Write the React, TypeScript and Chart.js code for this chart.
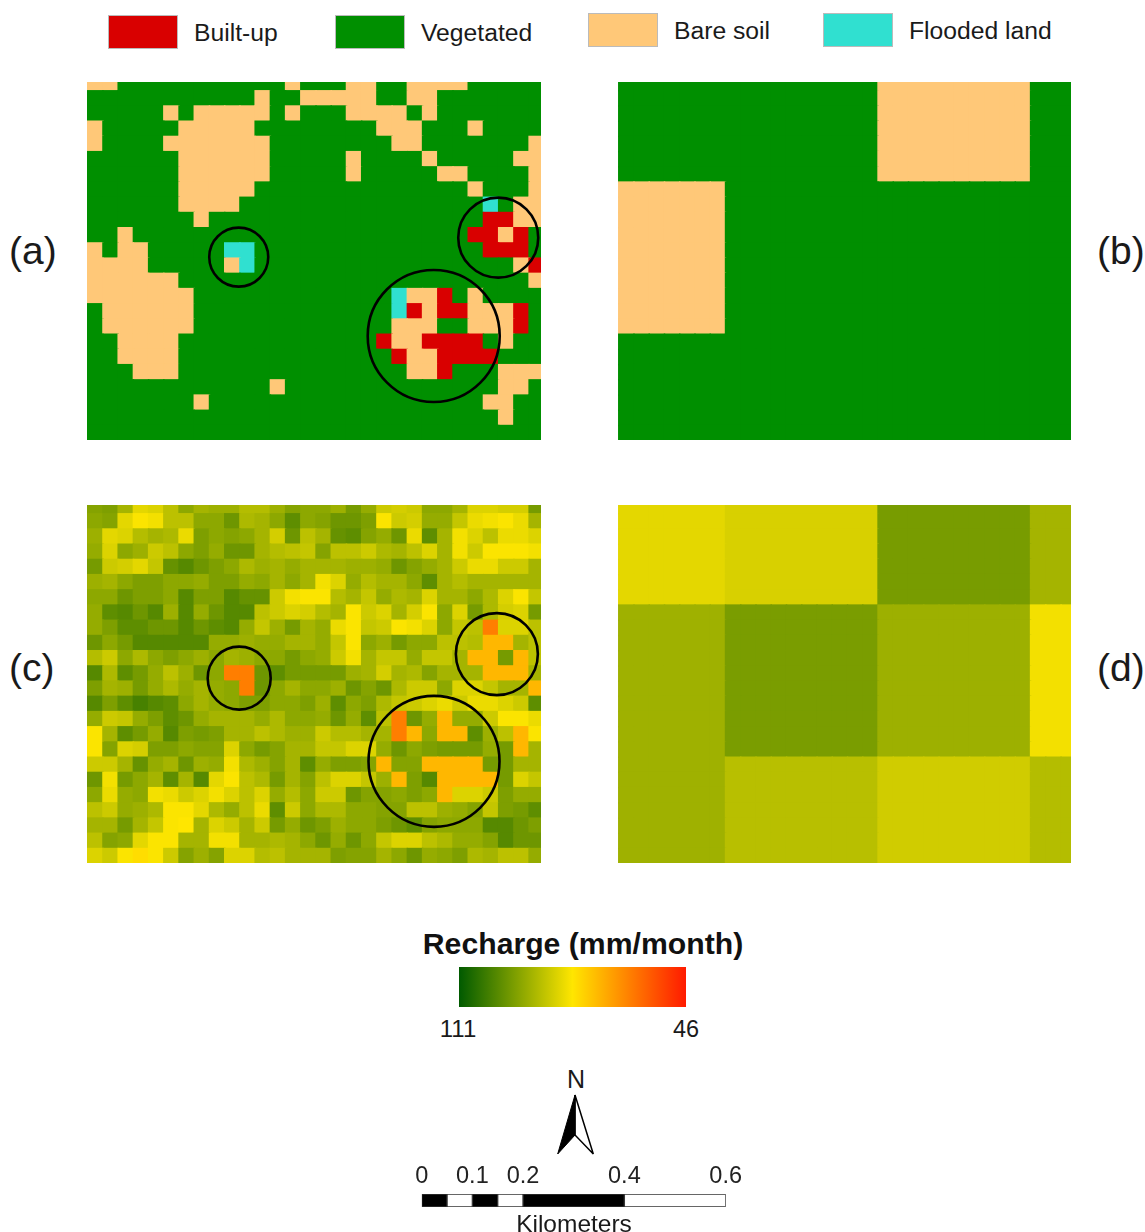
import React, { useEffect, useRef } from "react";
import { Chart, registerables } from "chart.js";

Chart.register(...registerables);

const FONT = '"Liberation Sans", Arial, sans-serif';

// ---------- data ----------
const legendItems = ["Built-up", "Vegetated", "Bare soil", "Flooded land"];
const landColors: Record<string, string> = { R: "#d90000", G: "#008f00", B: "#ffc878", C: "#30e0d0" };

// (a) land cover per cell: R built-up, G vegetated, B bare soil, C flooded land
const landCoverFine = [
  "BBGGG GGGGG GGGBG GGBBG GBBBB GGGGG",
  "GGGGG GGGGG GBGGB BBBBG GBBGG GGGGG",
  "GGGGG BGBBB BBGBG GGBBB BGBGG GGGGG",
  "BGGGG GBBBB BGGGG GGGGB BBGGG BGGGG",
  "BGGGG BBBBB BBGGG GGGGG BBGGG GGGGB",
  "GGGGG GBBBB BBGGG GGBGG GGBGG GGGBB",
  "GGGGG GBBBB BBGGG GGBGG GGGBB GGGGB",
  "GGGGG GBBBB BGGGG GGGGG GGGGG BGGGB",
  "GGGGG GBBBB GGGGG GGGGG GGGGG GCGBB",
  "GGGGG GGBGG GGGGG GGGGG GGGGG GRRBB",
  "GGBGG GGGGG GGGGG GGGGG GGGGG RRBRG",
  "BGBBG GGGGC CGGGG GGGGG GGGGG GRRRG",
  "BBBBG GGGGB CGGGG GGGGG GGGGG GGGBR",
  "BBBBB BGGGG GGGGG GGGGG GGGGG GGGGB",
  "BBBBB BBGGG GGGGG GGGGG CBBRG BGGGG",
  "GBBBB BBGGG GGGGG GGGGG CRBRR BBBRG",
  "GBBBB BBGGG GGGGG GGGGG BBBGG BBBRG",
  "GGBBB BGGGG GGGGG GGGGR BBRRR RGBGG",
  "GGBBB BGGGG GGGGG GGGGG RBBRR RRGGG",
  "GGGBB BGGGG GGGGG GGGGG GBBRG GGBBB",
  "GGGGG GGGGG GGBGG GGGGG GGGGG GGBBG",
  "GGGGG GGBGG GGGGG GGGGG GGGGG GBBGG",
  "GGGGG GGGGG GGGGG GGGGG GGGGG GGBGG",
  "GGGGG GGGGG GGGGG GGGGG GGGGG GGGGG",
];

// (b) land cover per coarse block
const landCoverCoarse = ["GGBG", "BGGG", "GGGG"];

// (c) recharge per cell, mm/month
const rechargeFine = [
  [94,95,90,82,83,87,93,90,91,91,88,88,91,94,93,93,91,96,92,85,84,85,93,93,90,83,83,84,84,96],
  [93,94,82,79,80,87,87,93,93,97,89,90,93,99,93,94,97,97,95,79,85,84,92,92,86,81,80,79,81,90],
  [91,82,83,88,90,89,81,95,93,94,93,90,84,97,87,90,98,99,94,92,97,81,99,90,80,83,87,81,81,83],
  [92,83,93,91,85,87,93,95,92,97,97,90,88,87,86,94,87,87,85,89,90,87,83,90,80,85,79,79,79,80],
  [96,85,84,82,86,98,100,97,95,93,89,91,90,92,90,90,90,91,91,92,97,94,92,90,85,81,81,85,85,90],
  [91,90,93,95,95,93,93,92,95,95,92,93,90,93,90,80,83,92,88,90,90,93,99,90,88,90,90,90,90,90],
  [93,93,97,95,95,93,100,95,95,100,98,98,85,80,79,79,88,90,86,92,89,90,83,90,90,93,89,83,79,86],
  [92,99,100,97,100,91,100,92,97,100,100,87,85,83,84,88,90,79,85,83,90,84,79,93,83,96,89,84,83,96],
  [92,95,99,99,97,97,100,97,99,100,92,86,91,96,90,92,81,79,86,85,79,80,83,93,86,87,62,83,83,87],
  [97,93,96,100,100,100,100,100,92,92,91,92,92,90,90,92,86,79,93,91,96,93,93,87,87,88,71,71,90,87],
  [88,85,93,89,93,95,93,91,93,90,91,93,93,96,93,92,85,80,90,86,86,92,86,86,90,71,71,96,71,87],
  [100,89,99,96,92,87,91,97,93,62,62,97,99,96,96,96,96,91,90,84,90,89,94,90,90,90,71,71,71,90],
  [95,90,91,96,92,89,92,90,92,93,62,97,93,90,93,93,91,97,94,97,89,85,85,93,83,83,86,90,90,71],
  [100,95,99,102,100,99,93,90,92,93,95,95,93,93,95,91,99,93,95,89,86,85,83,81,85,81,81,83,85,99],
  [92,85,86,92,95,99,97,92,90,90,90,92,89,93,93,92,97,92,99,87,62,97,92,71,92,92,85,79,79,81],
  [79,90,99,96,92,100,95,96,95,90,90,87,89,91,91,85,88,88,90,90,62,71,93,71,71,99,91,87,71,79],
  [79,94,83,84,95,95,93,94,94,83,93,96,94,90,90,86,86,83,83,92,97,93,95,96,96,96,92,96,71,90],
  [85,85,90,98,92,90,97,91,92,80,89,91,94,90,99,92,95,95,94,71,94,94,71,71,71,71,96,96,90,90],
  [97,80,96,93,90,99,90,100,82,79,87,89,96,90,94,87,83,83,86,91,71,95,100,71,71,71,71,96,83,86],
  [93,81,92,93,80,81,85,83,80,83,87,83,92,88,93,85,85,97,94,94,93,95,93,71,83,83,85,95,92,92],
  [87,85,92,91,89,79,79,82,89,92,87,81,99,85,93,89,89,93,93,94,94,87,87,91,92,94,86,95,96,99],
  [90,90,96,90,86,79,78.5,90,83,85,90,85,96,92,97,95,91,93,93,95,97,99,94,93,93,93,100,100,97,95],
  [87,94,93,82,79,79,90,90,80,80,90,90,89,90,93,97,92,97,93,86,83,83,87,89,92,92,94,100,97,97],
  [83,85,79,77,79,85,94,91,94,83,83,88,87,90,90,90,95,94,94,90,93,97,92,93,95,89,90,87,87,92],
];

// (d) recharge per coarse block, mm/month
const rechargeCoarse = [
  [82, 83.5, 95.7, 90],
  [90.7, 95.4, 91, 80],
  [90.7, 87.5, 84.5, 88],
];

const coarseColumnEdges = [0, 7, 17, 27, 30];
const coarseRowEdges = [0, 7, 17, 24];

// circled areas in grid units: [column, row, radius in px]
const circlesTop = [
  [9.97, 11.98, 29.5],
  [27.02, 10.7, 40],
  [22.78, 17.16, 66],
];
const circlesBottom = [
  [10.0, 11.85, 31.5],
  [26.93, 10.27, 41],
  [22.8, 17.32, 65.5],
];

const rechargeMax = 111;
const rechargeMin = 46;
const scaleTicks = [0, 0.1, 0.2, 0.4, 0.6];
const scaleSegments = [0.05, 0.05, 0.05, 0.05, 0.2, 0.2];
// ---------- end of data ----------

function rechargeColor(v: number): string {
  const t = (rechargeMax - v) / (rechargeMax - rechargeMin);
  if (t <= 0.5) {
    const u = t / 0.5;
    return `rgb(${Math.round(255 * u)},${Math.round(90 + 140 * u)},0)`;
  }
  const u = (t - 0.5) / 0.5;
  return `rgb(255,${Math.round(230 - 204 * u)},0)`;
}

function blockIndex(edges: number[], i: number): number {
  for (let k = 0; k < edges.length - 1; k++) if (i >= edges[k] && i < edges[k + 1]) return k;
  return edges.length - 2;
}

const COLS = 30;
const ROWS = 24;

function fineColors(colorAt: (col: number, row: number) => string) {
  const points: { x: number; y: number }[] = [];
  const colors: string[] = [];
  for (let r = 0; r < ROWS; r++) {
    for (let c = 0; c < COLS; c++) {
      // each square overlaps its right/lower neighbour's edge, so seams stay closed
      points.push({ x: c + 0.549, y: r + 0.549 });
      colors.push(colorAt(c, r));
    }
  }
  return { points, colors };
}

const landRows = landCoverFine.map((s) => s.replace(/ /g, ""));

const panelA = () => fineColors((c, r) => landColors[landRows[r][c]]);
const panelB = () =>
  fineColors((c, r) => landColors[landCoverCoarse[blockIndex(coarseRowEdges, r)][blockIndex(coarseColumnEdges, c)]]);
const panelC = () => fineColors((c, r) => rechargeColor(rechargeFine[r][c]));
const panelD = () =>
  fineColors((c, r) => rechargeColor(rechargeCoarse[blockIndex(coarseRowEdges, r)][blockIndex(coarseColumnEdges, c)]));

function Panel(props: {
  left: number;
  top: number;
  width: number;
  height: number;
  xMax: number;
  build: () => { points: { x: number; y: number }[]; colors: string[] };
  circles?: number[][];
}) {
  const ref = useRef<HTMLCanvasElement>(null);
  useEffect(() => {
    const { points, colors } = props.build();
    const datasets: any[] = [
      {
        data: points,
        pointStyle: "rect",
        pointRadius: 11.8,
        pointBorderWidth: 0,
        pointBackgroundColor: colors,
        clip: 0,
        order: 2,
      },
    ];
    if (props.circles) {
      datasets.push({
        data: props.circles.map((c) => ({ x: c[0], y: c[1] })),
        pointStyle: "circle",
        pointRadius: props.circles.map((c) => c[2]),
        pointBorderWidth: 2.6,
        pointBorderColor: "#000",
        pointBackgroundColor: "rgba(0,0,0,0)",
        clip: false,
        order: 1,
      });
    }
    const chart = new Chart(ref.current!, {
      type: "scatter",
      data: { datasets },
      options: {
        responsive: false,
        animation: false,
        events: [],
        layout: { padding: 0, autoPadding: false },
        plugins: { legend: { display: false }, tooltip: { enabled: false } },
        scales: {
          x: { type: "linear", min: 0, max: props.xMax, display: false },
          y: { type: "linear", min: 0.47, max: 24, reverse: true, display: false },
        },
      },
    } as any);
    return () => chart.destroy();
  }, []);
  return (
    <canvas
      ref={ref}
      width={props.width}
      height={props.height}
      style={{
        position: "absolute",
        left: props.left,
        top: props.top,
        width: props.width,
        height: props.height,
        filter: "blur(0.4px)",
      }}
    />
  );
}

function ScaleBar() {
  const ref = useRef<HTMLCanvasElement>(null);
  useEffect(() => {
    const chart = new Chart(ref.current!, {
      type: "bar",
      data: {
        labels: ["km"],
        datasets: scaleSegments.map((v, i) => ({
          data: [v],
          backgroundColor: i % 2 === 0 ? "#000" : "#fff",
          borderColor: "#333",
          borderWidth: 1,
          borderSkipped: false,
          barPercentage: 1,
          categoryPercentage: 1,
        })),
      },
      options: {
        indexAxis: "y",
        responsive: false,
        animation: false,
        events: [],
        layout: { padding: { left: 21.7, right: 24.3, top: 0, bottom: 3 }, autoPadding: false },
        plugins: { legend: { display: false }, tooltip: { enabled: false } },
        scales: {
          x: {
            type: "linear",
            position: "top",
            stacked: true,
            min: 0,
            max: 0.6,
            afterBuildTicks: (s: any) => {
              s.ticks = scaleTicks.map((value) => ({ value }));
            },
            afterFit: (s: any) => {
              s.height = 34;
            },
            grid: { display: false, drawTicks: false },
            border: { display: false },
            ticks: {
              autoSkip: false,
              maxRotation: 0,
              padding: 3,
              color: "#222",
              font: { family: FONT, size: 23.5 },
              callback: (v: any) => String(v),
            },
          },
          y: { stacked: true, display: false },
        },
      },
    } as any);
    return () => chart.destroy();
  }, []);
  return (
    <canvas
      ref={ref}
      width={350}
      height={50}
      style={{ position: "absolute", left: 400, top: 1160, width: 350, height: 50 }}
    />
  );
}

function Label(props: { x: number; y: number; size: number; text: string; bold?: boolean; center?: boolean; color?: string }) {
  return (
    <div
      style={{
        position: "absolute",
        left: props.x,
        top: props.y,
        transform: props.center ? "translate(-50%,-50%)" : "translateY(-50%)",
        fontFamily: FONT,
        fontSize: props.size,
        fontWeight: props.bold ? 700 : 400,
        color: props.color || "#1a1a1a",
        whiteSpace: "nowrap",
        lineHeight: 1,
      }}
    >
      {props.text}
    </div>
  );
}

const swatchBoxes = [
  { x: 108, y: 15, tx: 194, ty: 33, c: landColors.R },
  { x: 335, y: 15, tx: 421, ty: 33, c: landColors.G },
  { x: 588, y: 13, tx: 674, ty: 31, c: landColors.B },
  { x: 823, y: 13, tx: 909, ty: 31, c: landColors.C },
];

export default function App() {
  return (
    <div style={{ position: "absolute", left: 0, top: 0, width: 1145, height: 1232, background: "#fff", overflow: "hidden" }}>
      {legendItems.map((t, i) => (
        <React.Fragment key={t}>
          <div
            style={{
              position: "absolute",
              left: swatchBoxes[i].x,
              top: swatchBoxes[i].y,
              width: 70,
              height: 34,
              boxSizing: "border-box",
              background: swatchBoxes[i].c,
              border: "1px solid #bbb",
            }}
          />
          <Label x={swatchBoxes[i].tx} y={swatchBoxes[i].ty} size={24.7} text={t} />
        </React.Fragment>
      ))}

      <Panel left={87} top={82} width={454} height={358} xMax={29.83} build={panelA} circles={circlesTop} />
      <Panel left={618} top={82} width={453} height={358} xMax={29.7} build={panelB} />
      <Panel left={87} top={505} width={454} height={358} xMax={29.83} build={panelC} circles={circlesBottom} />
      <Panel left={618} top={505} width={453} height={358} xMax={29.7} build={panelD} />

      <Label x={9} y={250} size={39} text="(a)" />
      <Label x={1097} y={250} size={39} text="(b)" />
      <Label x={9} y={667} size={39} text="(c)" />
      <Label x={1097} y={667} size={39} text="(d)" />

      <Label x={583} y={944} size={30.2} text="Recharge (mm/month)" bold center color="#111" />
      <div
        style={{
          position: "absolute",
          left: 459,
          top: 967,
          width: 227,
          height: 40,
          background: `linear-gradient(to right, ${rechargeColor(111)}, ${rechargeColor(78.5)} 50%, ${rechargeColor(46)})`,
        }}
      />
      <Label x={458} y={1029} size={24} text={String(rechargeMax)} center />
      <Label x={686} y={1030} size={23.5} text={String(rechargeMin)} center />

      <Label x={576} y={1079} size={25} text="N" center />
      <svg style={{ position: "absolute", left: 550, top: 1090, width: 50, height: 70 }} viewBox="550 1090 50 70">
        <path d="M575 1095 L593.3 1154 L575 1135 Z" fill="#fff" stroke="#000" strokeWidth={1.5} strokeLinejoin="miter" />
        <path d="M575 1095 L557.7 1154 L575 1135 Z" fill="#000" stroke="#000" strokeWidth={1} />
      </svg>

      <ScaleBar />
      <Label x={574} y={1224} size={24.5} text="Kilometers" center />
    </div>
  );
}
